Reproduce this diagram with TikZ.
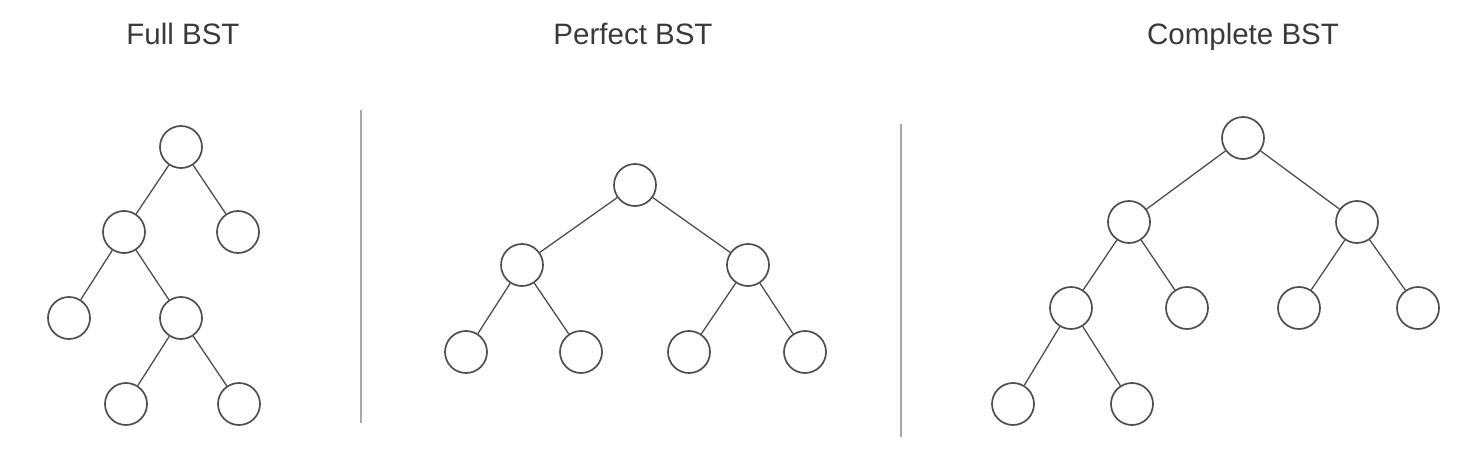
\documentclass[tikz,border=0pt]{standalone}
\usepackage{fontspec}
\setmainfont{Liberation Sans}
\definecolor{titlecol}{HTML}{3A3A3A}
\definecolor{nodecol}{HTML}{4E4E4E}
\definecolor{divcol}{HTML}{A8A8A8}
\begin{document}
\begin{tikzpicture}[x=1pt,y=1pt,
  tn/.style={circle,draw=nodecol,line width=1.7pt,minimum size=42pt,inner sep=0pt},
  ed/.style={draw=nodecol,line width=1.3pt},
  title/.style={text=titlecol,font=\fontsize{29.5}{33}\selectfont,anchor=base},
  divider/.style={draw=divcol,line width=2pt}]
\useasboundingbox (0,0) rectangle (1480,448);
% titles
\node[title] (t1) at (183,403) {Full BST};
\node[title] (t2) at (633,403) {Perfect BST};
\node[title] (t3) at (1243,403) {Complete BST};
% dividers
\coordinate (d1a) at (361,338); \coordinate (d1b) at (361,25);
\coordinate (d2a) at (901,324); \coordinate (d2b) at (901,11);
\draw[divider] (d1a) -- (d1b);
\draw[divider] (d2a) -- (d2b);
% Full BST
\node[tn] (f1) at (181,301) {};
\node[tn] (f2) at (124,216) {};
\node[tn] (f3) at (238,216) {};
\node[tn] (f4) at (69,130) {};
\node[tn] (f5) at (181,130) {};
\node[tn] (f6) at (126,44) {};
\node[tn] (f7) at (239,44) {};
\draw[ed] (f1) -- (f2); \draw[ed] (f1) -- (f3);
\draw[ed] (f2) -- (f4); \draw[ed] (f2) -- (f5);
\draw[ed] (f5) -- (f6); \draw[ed] (f5) -- (f7);
% Perfect BST
\node[tn] (p1) at (635,263) {};
\node[tn] (p2) at (522,183) {};
\node[tn] (p3) at (748,183) {};
\node[tn] (p4) at (466,96) {};
\node[tn] (p5) at (581,96) {};
\node[tn] (p6) at (689,96) {};
\node[tn] (p7) at (805,96) {};
\draw[ed] (p1) -- (p2); \draw[ed] (p1) -- (p3);
\draw[ed] (p2) -- (p4); \draw[ed] (p2) -- (p5);
\draw[ed] (p3) -- (p6); \draw[ed] (p3) -- (p7);
% Complete BST
\node[tn] (c1) at (1243,310) {};
\node[tn] (c2) at (1129,226) {};
\node[tn] (c3) at (1357,226) {};
\node[tn] (c4) at (1071,140) {};
\node[tn] (c5) at (1187,140) {};
\node[tn] (c6) at (1299,140) {};
\node[tn] (c7) at (1418,140) {};
\node[tn] (c8) at (1013,44) {};
\node[tn] (c9) at (1132,44) {};
\draw[ed] (c1) -- (c2); \draw[ed] (c1) -- (c3);
\draw[ed] (c2) -- (c4); \draw[ed] (c2) -- (c5);
\draw[ed] (c3) -- (c6); \draw[ed] (c3) -- (c7);
\draw[ed] (c4) -- (c8); \draw[ed] (c4) -- (c9);
\end{tikzpicture}
\end{document}
